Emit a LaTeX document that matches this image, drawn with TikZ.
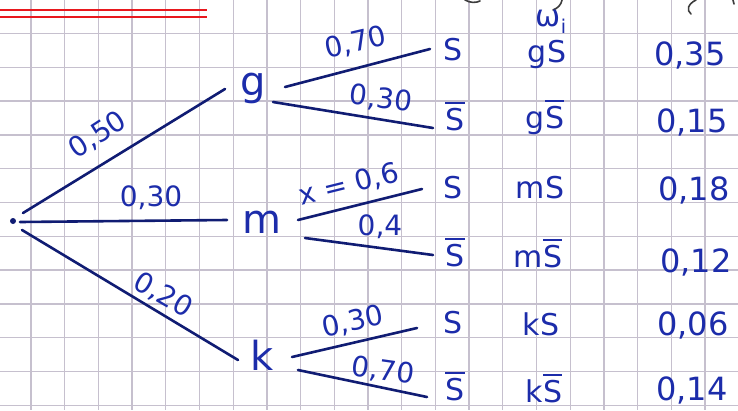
\documentclass[tikz,border=0pt]{standalone}
\usepackage{fontspec}
\setmainfont{DejaVu Sans}
\usetikzlibrary{calc}
\definecolor{ink}{RGB}{28,44,170}
\definecolor{inkline}{RGB}{16,28,115}
\definecolor{gridc}{RGB}{198,192,206}
\definecolor{redline}{RGB}{232,24,30}
\definecolor{pencil}{RGB}{60,60,60}
\newcommand\ovl[1]{\vbox{\hrule height 2.2pt\kern 4pt\hbox{#1}}}
\begin{document}
\begin{tikzpicture}[x=1pt,y=-1pt,
  every node/.style={inner sep=0pt, text=ink},
  treenode/.style={font=\fontsize{40}{44}\selectfont, anchor=base},
  leaf/.style={font=\fontsize{30}{34}\selectfont, anchor=base},
  outcome/.style={font=\fontsize{30}{34}\selectfont, anchor=base},
  prob/.style={font=\fontsize{32}{36}\selectfont, anchor=base},
  blabel/.style={font=\fontsize{28}{32}\selectfont},
  branch/.style={draw=inkline, line width=2.6pt, line cap=round},
  gridline/.style={draw=gridc, line width=1.3pt},
  redrule/.style={draw=redline, line width=2.2pt},
  scrap/.style={draw=pencil, line width=1.6pt, line cap=round}]
\useasboundingbox (0,0) rectangle (738,410);
\fill[white] (0,0) rectangle (738,410);
% grid paper
\foreach \i in {0,...,20} \draw[gridline] ({31+33.7*\i},0) -- ({31+33.7*\i},410);
\foreach \j in {0,...,11} \draw[gridline] (0,{33.5+33.8*\j}) -- (738,{33.5+33.8*\j});
% red double rule
\draw[redrule] (0,10) -- (207,10);
\draw[redrule] (0,17) -- (207,17);
% cut-off strokes at the top edge
\draw[scrap] (465,0) .. controls (470,3) and (476,3) .. (480,1);
\draw[scrap] (562,0) .. controls (561,5) and (558,8) .. (553,10);
\draw[scrap] (696,0) .. controls (688,4) and (686,10) .. (691,14);
\draw[scrap] (733,0) -- (734,4);
% root
\node[circle, fill=inkline, minimum size=6pt] (r) at (13,221) {};
% first level
\node[treenode] (g) at (253,95) {g};
\node[treenode] (m) at (262,233) {m};
\node[treenode] (k) at (262,370) {k};
% leaves
\node[leaf] (S1) at (453,60) {S};
\node[leaf] (S1b) at (455,130) {\ovl{S}};
\node[leaf] (S2) at (453,198) {S};
\node[leaf] (S2b) at (455,266) {\ovl{S}};
\node[leaf] (S3) at (453,333) {S};
\node[leaf] (S3b) at (455,400) {\ovl{S}};
% branches
\draw[branch] ($(r)+(10,-8)$) -- ($(g.base)+(-28,-6)$);
\draw[branch] ($(r)+(7,1)$) -- ($(m.base)+(-35,-13)$);
\draw[branch] ($(r)+(9,9)$) -- ($(k.base)+(-24,-10)$);
\draw[branch] ($(g.base)+(32,-8)$) -- ($(S1.base)+(-23,-11)$);
\draw[branch] ($(g.base)+(20,7)$) -- ($(S1b.base)+(-22,-2)$);
\draw[branch] ($(m.base)+(36,-13)$) -- ($(S2.base)+(-31,-9)$);
\draw[branch] ($(m.base)+(43,5)$) -- ($(S2b.base)+(-22,-11)$);
\draw[branch] ($(k.base)+(30,-13)$) -- ($(S3.base)+(-36,-5)$);
\draw[branch] ($(k.base)+(36,0)$) -- ($(S3b.base)+(-28,-3)$);
% branch labels
\node[blabel, rotate=33] (l1) at (98,135) {0,50};
\node[blabel] (l2) at (151,198) {0,30};
\node[blabel, rotate=-30] (l3) at (163,295) {0,20};
\node[blabel, rotate=13] (l4) at (356,43) {0,70};
\node[blabel, rotate=-7] (l5) at (381,99) {0,30};
\node[blabel, rotate=14] (l6) at (349,185) {x = 0,6};
\node[blabel] (l7) at (380,227) {0,4};
\node[blabel, rotate=12] (l8) at (353,322) {0,30};
\node[blabel, rotate=-8] (l9) at (383,371) {0,70};
% column omega_i
\node[font=\fontsize{30}{34}\selectfont] (wi) at (551,22) {ω\raisebox{-7pt}{\fontsize{19}{20}\selectfont i}};
\node[outcome] (o1) at (547,62) {gS};
\node[outcome] (o2) at (545,128) {g\ovl{S}};
\node[outcome] (o3) at (540,198) {mS};
\node[outcome] (o4) at (538,267) {m\ovl{S}};
\node[outcome] (o5) at (541,335) {kS};
\node[outcome] (o6) at (544,402) {k\ovl{S}};
% probabilities
\node[prob] (p1) at (690,65) {0,35};
\node[prob] (p2) at (692,132) {0,15};
\node[prob] (p3) at (694,200) {0,18};
\node[prob] (p4) at (696,272) {0,12};
\node[prob] (p5) at (693,335) {0,06};
\node[prob] (p6) at (692,400) {0,14};
\end{tikzpicture}
\end{document}
